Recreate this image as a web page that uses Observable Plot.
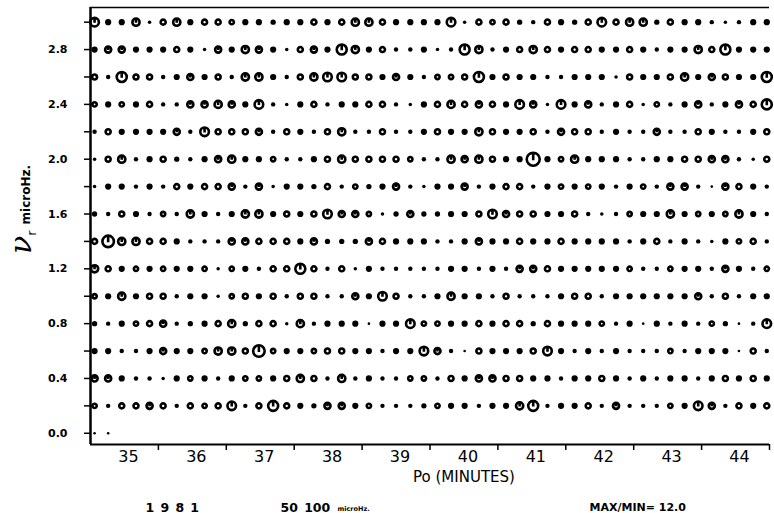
<!DOCTYPE html>
<html><head><meta charset="utf-8">
<script src="https://cdn.jsdelivr.net/npm/d3@7"></script>
<script src="https://cdn.jsdelivr.net/npm/@observablehq/plot@0.6"></script>
<style>body{margin:0;background:#fff}</style>
</head><body><div id="chart"></div>
<script>
// Column periods Po (minutes)
const po = [34.06,34.26,34.46,34.67,34.87,35.07,35.27,35.47,35.68,35.88,36.08,36.28,36.48,36.69,36.89,37.09,37.29,37.49,37.70,37.90,38.10,38.30,38.50,38.71,38.91,39.11,39.31,39.51,39.72,39.92,40.12,40.32,40.52,40.73,40.93,41.13,41.33,41.53,41.74,41.94,42.14,42.34,42.54,42.75,42.95,43.15,43.35,43.55,43.76,43.96];
// Row frequencies nu_r (microHz)
const nuRows = [3.0,2.8,2.6,2.4,2.2,2.0,1.8,1.6,1.4,1.2,1.0,0.8,0.6,0.4,0.2];
// Symbol amplitude levels per row (estimated)
const row30 = [5.5,3,3,5,1.5,4,5,3,4,4,3.5,3,3,2.5,3,3,4, 3,4,5,5,4,3,3,3,3,5.5,1.5,4,3.5,4,2.5,2, 4,3,2.5,4,5.5,4,5,5,2.5,4,3,3,2,1.5,2,3,3];
const row28 = [3,4.5,4.5,3,3,3,4,3,1.5,4.5,3,5,4.5,3,1.5,4,4.5, 3,6,5,3,4,2,2,3,1.5,2,6,5,2,3,4,5, 4,3,4,4,3,3,4,3,2,3,3,5,4,6,3,3,3];
const row26 = [4,2,6,4,4,2,3,4.5,3,4,2,5,5,3,2,4,5, 5.5,5.5,4,4,3,4.5,3,2,3.5,3.5,4,6,3,4,3,3, 2,2,3,3,3,1.5,4,3,3,4,5,3,4.5,4,3,3,6];
const row24 = [3.5,3,3.5,3,4,2,2,4.5,4.5,5,4.5,3,5.5,2,1.5,3,4, 2,3,3,4,4,2,1.5,3,4,5,4,4.5,4,3,5.5,4.5, 1.5,5.5,3,4.5,2,3,4,1.5,3.5,2,3,4.5,2,3,4.5,4,6];
const row22 = [2,4,3,3,3,3,4.5,2,5.5,4,4,4,4.5,2,4,3,2, 4,5,2,2,4,2,2,3,4,3,3,5,4,3,3,4, 2,4.5,4,4,2,3,2,2,4.5,2,2,4,3,2,2,3,4];
const row20 = [1.5,4,5,2,3,4,2.5,2,3,4.5,5,3,3,3.5,2,2,3, 4,5,4,4,4,4,3.5,2,2,5,4.5,5,4,3,3,7, 3,3.5,5,3,3,3,2,2,3,3,4,4,4.5,4.5,2,1.5,4];
const row18 = [1.5,3,3,2,3,2,4,3,4,4,4.5,2,4.5,1.5,3,3,2.5, 4,2,3.5,2.5,3,4.5,2,1.5,3,3,4.5,2,3,4,4,2, 3,3.5,3,3.5,3,2,3,3.5,2,4.5,4.5,2,1,4.5,4,3,2];
const row16 = [2.5,2,4,3,2,3.5,2,5,3,2,3,5,5,3,4,3,4, 5.5,4.5,4.5,3.5,1.5,2.5,4.5,2.5,2.5,3,3,4,5.5,4.5,4,4, 3,3,4,2,1.5,2,3.5,3,3,5,3,3.5,3,3.5,5,3,2];
const row14 = [4,6.5,5,5,4,4,3,2,2,2,4.5,4.5,4,4,4,3,4.5, 2.5,2.5,2.5,4.5,4,3,3,3,2,2,3,4.5,3,3,4,3, 3,4,3,3,3,3,2,3,4,2,3,2,1.5,3,3.5,4,2];
const row12 = [5,4,3,3.5,3,3.5,3,3,3.5,1.5,3.5,3,2,4,4,6,4, 2,4,1.5,3,2,2,2,2,2,3,3,2,3,2,4.5,4.5, 4,3,3,3,3,3,3.5,2,2,3.5,3,3,2,4.5,3,2,3.5];
const row10 = [3.5,3,5,3,4,4,2,3,3,1.5,3.5,4,3,4,2,4,4, 2,2,4.5,3,5.5,4,2,2,3,5,3,3,2,4,2,2, 2,3,4,4,2,3,3,3,3,3,3,4.5,2,4,2,3,3];
const row08 = [2.5,2,3,3.5,4,4.5,2,2.5,3,4,5,2.5,4,4,1.5,5,2, 3,3,3,1,3,3,5.5,3.5,3.5,3,3,4,3,4,4,2.5, 4,3,3,3,3.5,2,3,1,3,2,3,2,3.5,2.5,1,2,5.5];
const row06 = [3,3,2,2,3,4.5,3,3,3.5,5,5,4,6.5,3.5,3,3,3.5, 4,4,3,3,2,3,3,5.5,4.5,2,1,4,3,3,3,4, 5.5,3,2,3,2,3,2,2,2,3.5,2,3,3,3,1,4,2];
const row04 = [4.5,4.5,3,2,2,1.5,3,3.5,3,2,3,3.5,3.5,3,4,5,4, 2,5,2,3,2,2,3.5,3.5,2,4,3,4.5,4.5,4,4,3, 3,2,3,3,4,3,2,3,2,3,3,2,3,4,3,4,3];
const row02 = [3.5,2,4,4,4.5,4,2,4,3.5,4,5.5,2,4,6,4,3,2.5, 4.5,4.5,3,3.5,2,2,2,2.5,3.5,3,3,2,3,3,5,6, 2,3,3,4,2,4.5,2,2,2,3.5,3,5.5,4.5,2,4,3,4];
const row00 = [1,1];
// Axis ticks
const xTicks = [35,36,37,38,39,40,41,42,43,44];
const yTicks = [0,0.2,0.4,0.6,0.8,1.0,1.2,1.4,1.6,1.8,2.0,2.2,2.4,2.6,2.8,3.0];
const yLabels = [0,0.4,0.8,1.2,1.6,2.0,2.4,2.8];
const xDomain = [34, 44];
const yDomain = [-0.082, 3.107];

const rows = [row30,row28,row26,row24,row22,row20,row18,row16,row14,row12,row10,row08,row06,row04,row02];
const data = [];
nuRows.forEach((nu, j) => rows[j].forEach((v, i) => data.push({po: po[i], nu, v})));
row00.forEach((v, i) => data.push({po: po[i], nu: 0, v}));

const SW = 2.6;
const ring = {draw(ctx, size) {
  const R = Math.sqrt(size / Math.PI), r = Math.max(R - SW / 2, 0.5);
  ctx.moveTo(r, 0); ctx.arc(0, 0, r, 0, 2 * Math.PI);
}};
const ringTick = {draw(ctx, size) {
  const R = Math.sqrt(size / Math.PI), r = Math.max(R - SW / 2, 0.5);
  ctx.moveTo(r, 0); ctx.arc(0, 0, r, 0, 2 * Math.PI);
  ctx.moveTo(0, -r); ctx.lineTo(0, 0.15 * r);
}};

const chart = Plot.plot({
  width: 774, height: 513,
  marginLeft: 90, marginRight: 5, marginTop: 7, marginBottom: 69,
  style: {fontFamily: "DejaVu Sans", fontSize: "11px", color: "black", background: "white"},
  x: {domain: xDomain, axis: null},
  y: {domain: yDomain, axis: null},
  r: {type: "linear", zero: false, domain: [1,3,4,5,6,7], range: [1.3,3.1,3.8,4.9,6.3,7.8]},
  marks: [
    Plot.dot(data.filter(d => d.v < 3.5), {x: "po", y: "nu", r: "v", fill: "black", stroke: null}),
    Plot.dot(data.filter(d => d.v >= 3.5 && d.v < 4.5), {x: "po", y: "nu", r: "v", symbol: ring, fill: "white", stroke: "black", strokeWidth: SW}),
    Plot.dot(data.filter(d => d.v >= 4.5), {x: "po", y: "nu", r: "v", symbol: ringTick, fill: "white", stroke: "black", strokeWidth: SW}),
    Plot.ruleX([xDomain[0]], {stroke: "black", strokeWidth: 2.5}),
    Plot.ruleY([yDomain[0]], {stroke: "black", strokeWidth: 2}),
    Plot.ruleY([yDomain[1]], {stroke: "black", strokeWidth: 1.5}),
    Plot.axisY(yTicks, {anchor: "left", tickSize: 6, fill: "none", strokeWidth: 1.5, label: null}),
    Plot.axisY(yLabels, {anchor: "left", tickSize: 6, stroke: "none", tickPadding: 17, tickFormat: d => d.toFixed(1), fontSize: 11, fontWeight: "bold", label: null}),
    Plot.axisX(xTicks, {anchor: "bottom", tickSize: 6, fill: "none", strokeWidth: 1.5, label: null}),
    Plot.axisX(xTicks, {anchor: "bottom", tickSize: 6, stroke: "none", tickPadding: 0, dx: -30, fontSize: 16, label: null}),
    Plot.text(["Po (MINUTES)"], {frameAnchor: "bottom", dx: 34, dy: 33, lineAnchor: "middle", fontSize: 15}),
    Plot.text(["1\u20029\u20028\u20021"], {frameAnchor: "bottom-left", textAnchor: "start", lineAnchor: "middle", dx: 55, dy: 63, fontSize: 12.5, fontWeight: "bold"}),
    Plot.text(["50\u2002100"], {frameAnchor: "bottom-left", textAnchor: "start", lineAnchor: "middle", dx: 190, dy: 63, fontSize: 12.5, fontWeight: "bold"}),
    Plot.text(["microHz."], {frameAnchor: "bottom-left", textAnchor: "start", lineAnchor: "middle", dx: 247, dy: 64, fontSize: 6.5, fontWeight: "bold"}),
    Plot.text(["MAX/MIN= 12.0"], {frameAnchor: "bottom-left", textAnchor: "start", lineAnchor: "middle", dx: 499, dy: 63, fontSize: 11, fontWeight: "bold"})
  ]
});
document.getElementById("chart").appendChild(chart);

// Rotated y-axis title with subscript
const t = d3.select(chart).append("text")
  .attr("transform", "translate(31,254) rotate(-90)")
  .attr("text-anchor", "start")
  .attr("font-family", "DejaVu Sans")
  .attr("fill", "black");
t.append("tspan").attr("font-family", "DejaVu Serif").attr("font-style", "italic").attr("font-size", 30).text("ν");
t.append("tspan").attr("font-size", 13).attr("dy", 5).text("r");
t.append("tspan").attr("font-size", 12).attr("font-weight", "bold").attr("dy", -6).attr("dx", 6).text("microHz.");
</script>
</body></html>
